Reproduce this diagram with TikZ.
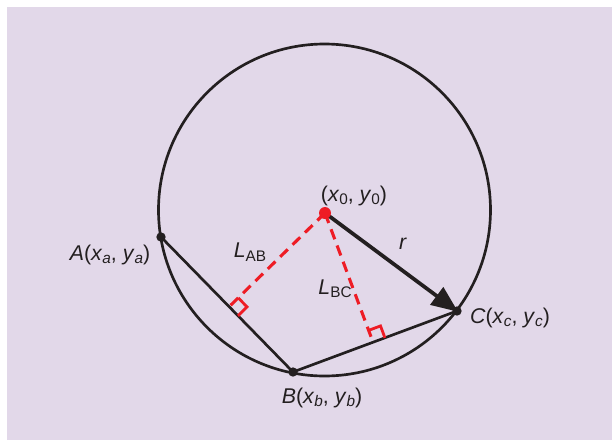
\documentclass[tikz,border=0pt]{standalone}
\usepackage{fontspec}
\setmainfont{Liberation Sans}
\usetikzlibrary{calc,arrows.meta}
\definecolor{bg}{HTML}{E2D8E9}
\definecolor{ink}{HTML}{231F20}
\definecolor{redd}{HTML}{EE1C25}
\newcommand{\vi}[1]{\textit{#1}}
\newcommand{\sub}[1]{\raisebox{-0.3ex}{\fontsize{11.5}{12}\selectfont #1}}
\begin{document}
\begin{tikzpicture}[x=0.75pt,y=-0.75pt,
  curve/.style={ink,line width=2pt},
  chord/.style={ink,line width=2pt},
  radius line/.style={ink,line width=2.8pt,-{Triangle[length=20pt,width=16pt]},shorten >=-1pt},
  reddash/.style={redd,line width=2.3pt,dash pattern=on 8pt off 5pt},
  rightmark/.style={redd,line width=2.1pt},
  lbl/.style={font=\fontsize{16}{19}\selectfont,text=ink,inner sep=0pt},
  bdot/.style={circle,fill=ink,minimum size=7pt,inner sep=0pt},
  rdot/.style={circle,fill=redd,minimum size=9pt,inner sep=0pt}]
\useasboundingbox (0,0) rectangle (612,440);
\fill[white] (0,0) rectangle (612,440);
\fill[bg] (7,7) rectangle (612,440);
\coordinate (M) at (324.5,210);
\coordinate (O) at (325,213);
\coordinate (A) at (161,237);
\coordinate (B) at (293,372);
\coordinate (C) at (457,311);
\coordinate (FAB) at ($(A)!(O)!(B)$);
\coordinate (FBC) at ($(B)!(O)!(C)$);
\coordinate (P1) at ($(FAB)!9.5pt!(B)$);
\coordinate (P3) at ($(FAB)!9.5pt!(O)$);
\coordinate (Q1) at ($(FBC)!9.5pt!(C)$);
\coordinate (Q3) at ($(FBC)!9.5pt!(O)$);
\draw[curve] (M) circle[radius=124.5pt];
\draw[chord] (A) -- (B) -- (C);
\draw[reddash] (O) -- (FAB);
\draw[reddash] (O) -- (FBC);
\draw[rightmark] (P1) -- ($(P1)+(P3)-(FAB)$) -- (P3);
\draw[rightmark] (Q1) -- ($(Q1)+(Q3)-(FBC)$) -- (Q3);
\draw[radius line] (O) -- (C);
\node[bdot] (a) at (A) {};
\node[bdot] (b) at (B) {};
\node[bdot] (c) at (C) {};
\node[rdot] (o) at (O) {};
\node[lbl] (la) at (110,255) {\vi{A}(\vi{x}\sub{\vi{a}}, \vi{y}\sub{\vi{a}})};
\node[lbl] (lb) at (322,398) {\vi{B}(\vi{x}\sub{\vi{b}}, \vi{y}\sub{\vi{b}})};
\node[lbl] (lc) at (510,318) {\vi{C}(\vi{x}\sub{\vi{c}}, \vi{y}\sub{\vi{c}})};
\node[lbl] (lo) at (354,196) {(\vi{x}\sub{0}, \vi{y}\sub{0})};
\node[lbl] (lr) at (403,244) {\vi{r}};
\node[lbl] (lab) at (250,252) {\vi{L}\sub{AB}};
\node[lbl] (lbc) at (335,289) {\vi{L}\sub{BC}};
\end{tikzpicture}
\end{document}
